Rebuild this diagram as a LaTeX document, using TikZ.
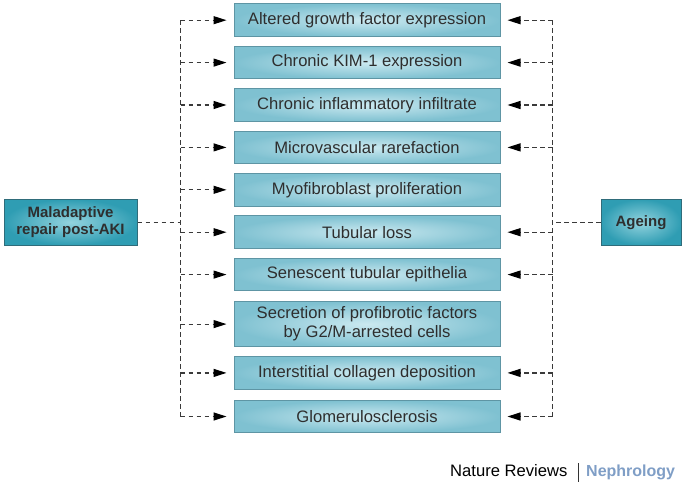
\documentclass[tikz,border=0pt]{standalone}
\usepackage{fontspec}
\setmainfont{Liberation Sans}
\usetikzlibrary{arrows.meta,shadings}
\definecolor{boxout}{HTML}{7FC1D1}
\definecolor{boxin}{HTML}{CBE9F0}
\definecolor{boxline}{HTML}{5E95A4}
\definecolor{sideout}{HTML}{2F9DB3}
\definecolor{sidein}{HTML}{93D3DE}
\definecolor{sideline}{HTML}{2F6C7A}
\definecolor{dashc}{HTML}{3A3A3A}
\definecolor{txt}{HTML}{2E2E2E}
\definecolor{nephro}{HTML}{7F9EC6}
\tikzset{
  mainbox/.style={draw=boxline, line width=1pt, inner color=boxin, outer color=boxout,
    minimum width=266pt, minimum height=32.5pt, inner sep=0pt, align=center,
    font=\fontsize{16.6}{19}\selectfont, text=txt},
  sidebox/.style={draw=sideline, line width=1pt, inner color=sidein, outer color=sideout,
    minimum height=46pt, inner sep=0pt, align=center,
    font=\bfseries\fontsize{15}{17}\selectfont, text=txt},
  dline/.style={draw=dashc, line width=1.2pt, dash pattern=on 4.5pt off 3.5pt},
  darrow/.style={dline, -{Triangle[length=13pt,width=8pt,color=black,fill=black]}, shorten >=7pt},
}
\begin{document}
\begin{tikzpicture}[x=1pt,y=-1pt]
\useasboundingbox (0,0) rectangle (685,487);
\node[mainbox] (b1) at (367,20.2) {Altered growth factor expression};
\node[mainbox] (b2) at (367,62.6) {Chronic KIM-1 expression};
\node[mainbox] (b3) at (367,105) {Chronic inflammatory infiltrate};
\node[mainbox] (b4) at (367,147.4) {Microvascular rarefaction};
\node[mainbox] (b5) at (367,189.8) {Myofibroblast proliferation};
\node[mainbox] (b6) at (367,232.2) {Tubular loss};
\node[mainbox] (b7) at (367,274.6) {Senescent tubular epithelia};
\node[mainbox, minimum height=45pt] (b8) at (367,324.1) {Secretion of profibrotic factors\\by G2/M-arrested cells};
\node[mainbox] (b9) at (367,372.9) {Interstitial collagen deposition};
\node[mainbox] (b10) at (367,416.5) {Glomerulosclerosis};

\node[sidebox, minimum width=133pt] (mal) at (70.5,222.2) {Maladaptive\\repair post-AKI};
\node[sidebox, minimum width=80pt] (age) at (641,222.2) {Ageing};

\coordinate (lbus) at (180.5,0);
\coordinate (rbus) at (552.7,0);

% left bus
\draw[dline] (lbus |- b1.west) -- (lbus |- b10.west);
\draw[dline] (mal.east) -- (lbus |- mal.east);
\foreach \i in {1,...,10}{
  \draw[darrow] (lbus |- b\i.west) -- (b\i.west);
}
% right bus
\draw[dline] (rbus |- b1.east) -- (rbus |- b10.east);
\draw[dline] (age.west) -- (rbus |- age.west);
\foreach \i in {1,2,3,4,6,7,9,10}{
  \draw[darrow] (rbus |- b\i.east) -- (b\i.east);
}

% footer
\node[anchor=base west, inner sep=0pt, font=\fontsize{16.6}{19}\selectfont, text=black] (nr) at (450,476.7) {Nature Reviews};
\node[anchor=base west, inner sep=0pt, font=\bfseries\fontsize{16}{19}\selectfont, text=nephro] (np) at (586,476.7) {Nephrology};
\coordinate (bar) at (578,0);
\draw[line width=0.8pt, black!80] (bar |- 0,463) -- (bar |- 0,482);
\end{tikzpicture}
\end{document}
